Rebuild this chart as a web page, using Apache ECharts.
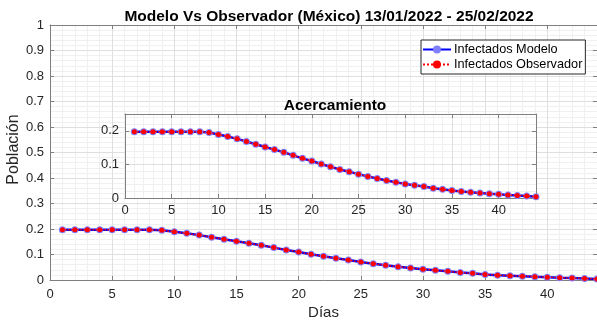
<!DOCTYPE html>
<html><head><meta charset="utf-8">
<script src="https://cdn.jsdelivr.net/npm/echarts@6/dist/echarts.min.js"></script>
<style>html,body{margin:0;padding:0;background:#fff}#c{width:597px;height:320px}</style>
</head><body><div id="c"></div>
<script>
const dias = Array.from({length:44},(_,i)=>i+1);
const modelo = [0.197,0.197,0.197,0.197,0.197,0.197,0.197,0.197,
 0.195,0.189,0.183,0.176,0.168,0.160,0.152,0.144,0.136,0.127,
 0.118,0.110,0.101,0.093,0.085,0.078,0.071,0.064,0.058,0.052,
 0.047,0.042,0.038,0.034,0.029,0.026,0.022,0.019,0.017,0.015,
 0.013,0.011,0.009,0.0075,0.006,0.004];
const observador = [0.197,0.197,0.197,0.197,0.197,0.197,0.197,0.197,
 0.195,0.189,0.183,0.176,0.168,0.160,0.152,0.144,0.136,0.127,
 0.118,0.110,0.101,0.093,0.085,0.078,0.071,0.064,0.058,0.052,
 0.047,0.042,0.038,0.034,0.029,0.026,0.022,0.019,0.017,0.015,
 0.013,0.011,0.009,0.0075,0.006,0.004];
const mainXTicks = [0,5,10,15,20,25,30,35,40];
const mainYTicks = [0,0.1,0.2,0.3,0.4,0.5,0.6,0.7,0.8,0.9,1];
const insetYTicks = [0,0.1,0.2];

const FONT = 'Liberation Sans, Arial, sans-serif';
const TXT = '#262626', AX = '#7f7f7f', MAJ = '#dfdfdf', MIN = '#f0f0f0';
const pairM = modelo.map((v,i)=>[dias[i],v]);
const pairO = observador.map((v,i)=>[dias[i],v]);

function xAx(grid, opts){ return Object.assign({type:'value', gridIndex:grid, min:0, max:44}, opts); }
function yAx(grid, max, opts){ return Object.assign({type:'value', gridIndex:grid, min:0, max:max}, opts); }
const hide = {axisLine:{show:false}, axisTick:{show:false}, axisLabel:{show:false}};

const chart = echarts.init(document.getElementById('c'), null, {renderer:'canvas'});
chart.setOption({
  animation:false,
  backgroundColor:'#fff',
  title:[
    {text:'Modelo Vs Observador (México) 13/01/2022 - 25/02/2022', left:324, top:4, textAlign:'center',
     textStyle:{fontFamily:FONT, fontSize:15.5, fontWeight:'bold', color:'#000'}},
    {text:'Acercamiento', left:330, top:93, textAlign:'center', z:20,
     textStyle:{fontFamily:FONT, fontSize:15.5, fontWeight:'bold', color:'#000'}}
  ],
  legend:{
    data:['Infectados Modelo','Infectados Observador'],
    left:421, top:40, orient:'vertical', itemGap:2, itemWidth:28, itemHeight:10,
    padding:[3,3,3,1], backgroundColor:'#fff', borderColor:'#262626', borderWidth:1,
    textStyle:{fontFamily:FONT, fontSize:12.7, color:'#000', padding:[0,0,0,-2]}, z:30
  },
  grid:[
    {left:50, right:0, top:25, bottom:40, show:false, containLabel:false, outerBoundsMode:'none'},
    {left:125, right:61, top:114, bottom:122, show:true, backgroundColor:'#fff', borderWidth:0, z:10,
     containLabel:false, outerBoundsMode:'none'}
  ],
  xAxis:[
    xAx(0, Object.assign({interval:1, z:0, splitLine:{show:true, lineStyle:{color:MIN, width:1}}}, hide)),
    xAx(0, {interval:5, position:'bottom', z:1,
      axisLine:{show:true, onZero:false, lineStyle:{color:AX}},
      axisTick:{show:true, inside:true, length:4, lineStyle:{color:AX}},
      axisLabel:{show:true, showMaxLabel:false, color:TXT, fontFamily:FONT, fontSize:13, margin:8},
      splitLine:{show:true, lineStyle:{color:MAJ}},
      name:'Días', nameLocation:'middle', nameGap:25, nameMoveOverlap:false,
      nameTextStyle:{color:TXT, fontFamily:FONT, fontSize:15}}),
    xAx(0, {interval:5, position:'top', z:1,
      axisLine:{show:true, onZero:false, lineStyle:{color:AX}},
      axisTick:{show:true, inside:true, length:4, lineStyle:{color:AX}},
      axisLabel:{show:false}, splitLine:{show:false}}),
    xAx(1, Object.assign({interval:1, z:11, splitLine:{show:true, lineStyle:{color:MIN}}}, hide)),
    xAx(1, {interval:5, position:'bottom', z:12,
      axisLine:{show:true, onZero:false, lineStyle:{color:AX}},
      axisTick:{show:true, inside:true, length:4, lineStyle:{color:AX}},
      axisLabel:{show:true, showMaxLabel:false, color:TXT, fontFamily:FONT, fontSize:13, margin:6},
      splitLine:{show:true, lineStyle:{color:MAJ}}}),
    xAx(1, {interval:5, position:'top', z:12,
      axisLine:{show:true, onZero:false, lineStyle:{color:AX}},
      axisTick:{show:true, inside:true, length:4, lineStyle:{color:AX}},
      axisLabel:{show:false}, splitLine:{show:false}})
  ],
  yAxis:[
    yAx(0, 1, Object.assign({interval:0.02, z:0, splitLine:{show:true, lineStyle:{color:MIN}}}, hide)),
    yAx(0, 1, {interval:0.1, position:'left', z:1,
      axisLine:{show:true, onZero:false, lineStyle:{color:AX}},
      axisTick:{show:true, inside:true, length:4, lineStyle:{color:AX}},
      axisLabel:{show:true, color:TXT, fontFamily:FONT, fontSize:13, margin:6,
        formatter:v=>String(+v.toFixed(2))},
      splitLine:{show:true, lineStyle:{color:MAJ}},
      name:'Población', nameLocation:'middle', nameGap:28, nameRotate:90, nameMoveOverlap:false,
      nameTextStyle:{color:TXT, fontFamily:FONT, fontSize:16, padding:[0,0,0,6]}}),
    yAx(0, 1, {interval:0.1, position:'right', z:1,
      axisLine:{show:true, onZero:false, lineStyle:{color:AX}},
      axisTick:{show:true, inside:true, length:4, lineStyle:{color:AX}},
      axisLabel:{show:false}, splitLine:{show:false}}),
    yAx(1, 0.25, Object.assign({interval:0.02, z:11, splitLine:{show:true, lineStyle:{color:MIN}}}, hide)),
    yAx(1, 0.25, {interval:0.1, position:'left', z:12,
      axisLine:{show:true, onZero:false, lineStyle:{color:AX}},
      axisTick:{show:true, inside:true, length:4, lineStyle:{color:AX}},
      axisLabel:{show:true, showMaxLabel:false, color:TXT, fontFamily:FONT, fontSize:13, margin:6,
        formatter:v=>String(+v.toFixed(2))},
      splitLine:{show:true, lineStyle:{color:MAJ}}}),
    yAx(1, 0.25, {interval:0.1, position:'right', z:12,
      axisLine:{show:true, onZero:false, lineStyle:{color:AX}},
      axisTick:{show:true, inside:true, length:4, lineStyle:{color:AX}},
      axisLabel:{show:false}, splitLine:{show:false}})
  ],
  series:[
    {name:'Infectados Modelo', type:'line', xAxisIndex:1, yAxisIndex:1, data:pairM, z:3,
     symbol:'circle', symbolSize:7, itemStyle:{color:'#8080ff'}, lineStyle:{color:'#0000ff', width:2.5}},
    {name:'Infectados Observador', type:'line', xAxisIndex:1, yAxisIndex:1, data:pairO, z:4,
     symbol:'circle', symbolSize:5, itemStyle:{color:'#ff0000'}, lineStyle:{color:'#ff0000', width:1.5, type:'dotted'}},
    {name:'Infectados Modelo', type:'line', xAxisIndex:4, yAxisIndex:4, data:pairM, z:13,
     symbol:'circle', symbolSize:7, itemStyle:{color:'#8080ff'}, lineStyle:{color:'#0000ff', width:2.5}},
    {name:'Infectados Observador', type:'line', xAxisIndex:4, yAxisIndex:4, data:pairO, z:14,
     symbol:'circle', symbolSize:5, itemStyle:{color:'#ff0000'}, lineStyle:{color:'#ff0000', width:1.5, type:'dotted'}}
  ]
});
</script></body></html>
